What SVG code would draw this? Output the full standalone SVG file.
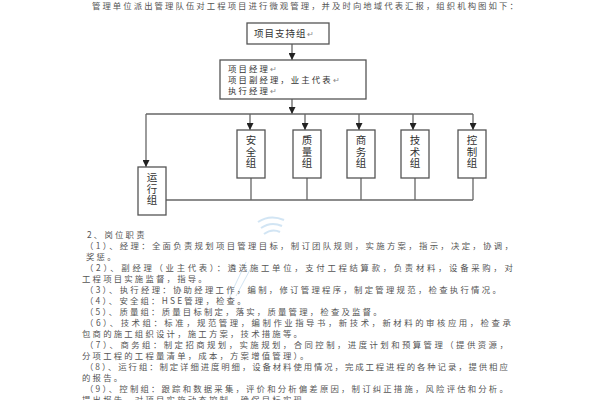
<svg xmlns="http://www.w3.org/2000/svg" width="600" height="400" viewBox="0 0 600 400">
<style>
.bx{fill:#fff;stroke:#555;stroke-width:1.3}
.ln{fill:none;stroke:#666;stroke-width:1.3}
.t{font-family:"Noto Sans CJK SC","Liberation Sans",sans-serif;fill:#333;font-size:9.5px;letter-spacing:1px}
.t2{font-family:"Noto Sans CJK SC","Liberation Sans",sans-serif;fill:#333;font-size:8.4px;letter-spacing:2.1px}
.v{font-family:"Noto Sans CJK SC","Liberation Sans",sans-serif;fill:#333;font-size:10.5px;writing-mode:vertical-rl;letter-spacing:1px}
.b{font-family:"Noto Sans CJK SC","Liberation Sans",sans-serif;fill:#555;font-size:8.4px;letter-spacing:2.2px}
.pm{fill:#888}
</style>
<defs>
<marker id="ah" markerWidth="7" markerHeight="7" refX="7" refY="3.5" orient="auto" markerUnits="userSpaceOnUse">
<path d="M0,0 L7,3.5 L0,7 Z" fill="#222"/>
</marker>
</defs>
<rect width="600" height="400" fill="#fff"/>
<g id="watermark" opacity="0.35" fill="none" stroke="#7fb6e0" stroke-width="2">
<path d="M258,222 Q270,214 284,220"/>
<path d="M261,228 Q271,221 282,226"/>
<path d="M264,234 Q272,228 280,232"/>
<path d="M228,300 L246,262" stroke-width="1"/>
<path d="M236,296 L252,266" stroke-width="1"/>
</g>
<text class="b" x="92" y="9" textLength="428" lengthAdjust="spacing">管理单位派出管理队伍对工程项目进行微观管理，并及时向地域代表汇报，组织机构图如下：</text>
<g id="connectors">
<path class="ln" d="M292,44 V60" marker-end="url(#ah)"/>
<path class="ln" d="M292,99 V114" marker-end="url(#ah)"/>
<path class="ln" d="M146,114 H473"/>
<path class="ln" d="M146,114 V167" marker-end="url(#ah)"/>
<path class="ln" d="M250,114 V130" marker-end="url(#ah)"/>
<path class="ln" d="M305,114 V130" marker-end="url(#ah)"/>
<path class="ln" d="M359,114 V130" marker-end="url(#ah)"/>
<path class="ln" d="M413,114 V130" marker-end="url(#ah)"/>
<path class="ln" d="M473,114 V130" marker-end="url(#ah)"/>
<path class="ln" d="M166,200 H473"/>
<path class="ln" d="M251,178 V200 M307,178 V200 M361,178 V200 M415,178 V200 M473,178 V200"/>
</g>
<g id="n_support">
<rect class="bx" x="247" y="23" width="82" height="21"/>
<text class="t" x="254" y="37">项目支持组<tspan class="pm" font-size="8">↵</tspan></text>
</g>
<g id="n_manager">
<rect class="bx" x="220" y="60" width="146" height="39"/>
<text class="t2" x="228" y="72">项目经理<tspan class="pm" font-size="7.5">↵</tspan></text>
<text class="t2" x="228" y="83">项目副经理，业主代表<tspan class="pm" font-size="7.5">↵</tspan></text>
<text class="t2" x="228" y="94">执行经理<tspan class="pm" font-size="7.5">↵</tspan></text>
</g>
<g id="n_yunxing">
<rect class="bx" x="138" y="167" width="28" height="48"/>
<text class="v" x="152" y="172">运行组</text>
</g>
<g id="n_anquan">
<rect class="bx" x="237" y="130" width="28" height="48"/>
<text class="v" x="251" y="135">安全组</text>
</g>
<g id="n_zhiliang">
<rect class="bx" x="293" y="130" width="28" height="48"/>
<text class="v" x="307" y="135">质量组</text>
</g>
<g id="n_shangwu">
<rect class="bx" x="347" y="130" width="28" height="48"/>
<text class="v" x="361" y="135">商务组</text>
</g>
<g id="n_jishu">
<rect class="bx" x="401" y="130" width="28" height="48"/>
<text class="v" x="415" y="135">技术组</text>
</g>
<g id="n_kongzhi">
<rect class="bx" x="458" y="130" width="28" height="48"/>
<text class="v" x="472" y="135">控制组</text>
</g>
<g id="duties">
<text class="b" x="87" y="238">2、岗位职责</text>
<text class="b" x="85" y="249" textLength="430" lengthAdjust="spacing">（1）、经理：全面负责规划项目管理目标，制订团队规则，实施方案，指示，决定，协调，</text>
<text class="b" x="86" y="260">奖惩。</text>
<text class="b" x="85" y="271" textLength="430" lengthAdjust="spacing">（2）、副经理（业主代表）：遴选施工单位，支付工程结算款，负责材料，设备采购，对</text>
<text class="b" x="82" y="282">工程项目实施监督，指导。</text>
<text class="b" x="85" y="293" textLength="418" lengthAdjust="spacing">（3）、执行经理：协助经理工作，编制，修订管理程序，制定管理规范，检查执行情况。</text>
<text class="b" x="85" y="304">（4）、安全组：HSE管理，检查。</text>
<text class="b" x="85" y="315">（5）、质量组：质量目标制定，落实，质量管理，检查及监督。</text>
<text class="b" x="85" y="326" textLength="428" lengthAdjust="spacing">（6）、技术组：标准，规范管理，编制作业指导书，新技术，新材料的审核应用，检查承</text>
<text class="b" x="82" y="337">包商的施工组织设计，施工方案，技术措施等。</text>
<text class="b" x="85" y="348" textLength="425" lengthAdjust="spacing">（7）、商务组：制定招商规划，实施规划，合同控制，进度计划和预算管理（提供资源，</text>
<text class="b" x="82" y="359">分项工程的工程量清单，成本，方案增值管理）。</text>
<text class="b" x="85" y="370" textLength="425" lengthAdjust="spacing">（8）、运行组：制定详细进度明细，设备材料使用情况，完成工程进程的各种记录，提供相应</text>
<text class="b" x="82" y="381">的报告。</text>
<text class="b" x="85" y="392" textLength="425" lengthAdjust="spacing">（9）、控制组：跟踪和数据采集，评价和分析偏差原因，制订纠正措施，风险评估和分析。</text>
<text class="b" x="82" y="403">提出报告，对项目实施动态控制，确保目标实现。</text>
</g>
</svg>
